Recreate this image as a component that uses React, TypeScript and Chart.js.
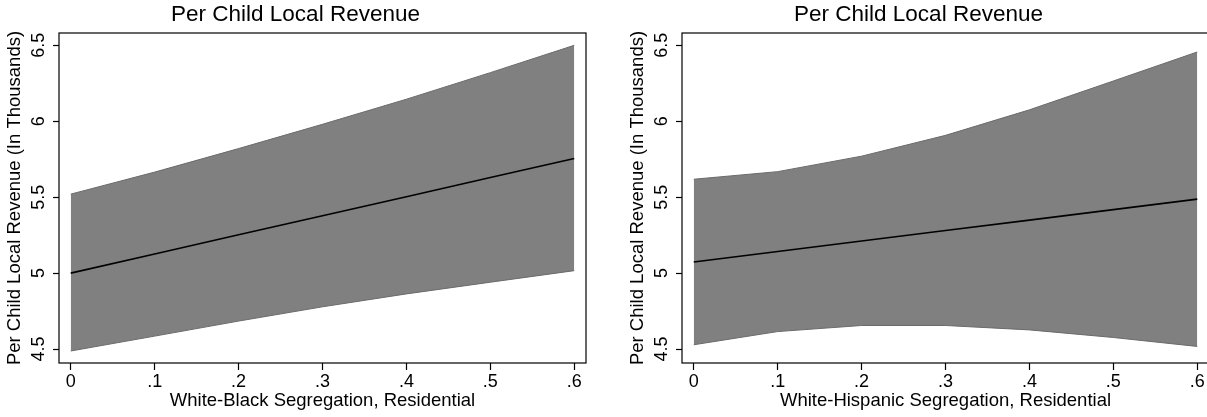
import React, { useEffect, useRef } from "react";
import { Chart, registerables } from "chart.js";

Chart.register(...registerables);

// ---- data ----
const xValues = [0, 0.1, 0.2, 0.3, 0.4, 0.5, 0.6];
const xTickLabels = ["0", ".1", ".2", ".3", ".4", ".5", ".6"];
const yTickValues = [4.5, 5, 5.5, 6, 6.5];
const yTickLabels = ["4.5", "5", "5.5", "6", "6.5"];

const blackUpper = [5.52, 5.665, 5.82, 5.98, 6.145, 6.32, 6.5];
const blackLower = [4.487, 4.585, 4.684, 4.778, 4.863, 4.94, 5.016];
const blackFit = [5.0, 5.126, 5.252, 5.378, 5.503, 5.629, 5.755];

const hispUpper = [5.618, 5.668, 5.77, 5.907, 6.075, 6.265, 6.456];
const hispLower = [4.528, 4.615, 4.655, 4.655, 4.626, 4.576, 4.517];
const hispFit = [5.073, 5.142, 5.211, 5.28, 5.349, 5.418, 5.487];

const chartTitle = "Per Child Local Revenue";
const yAxisTitle = "Per Child Local Revenue (In Thousands)";
const xTitleLeft = "White-Black Segregation, Residential";
const xTitleRight = "White-Hispanic Segregation, Residential";

const FONT = "'Liberation Sans', Arial, Helvetica, sans-serif";
const CANVAS_W = 591;
const CANVAS_H = 417;

const framePlugin = {
  id: "frameAndYLabels",
  afterDraw(chart: any) {
    const { ctx, chartArea } = chart;
    const { left, top, right, bottom } = chartArea;
    ctx.save();
    ctx.strokeStyle = "#000";
    ctx.lineWidth = 1.2;
    ctx.strokeRect(left, top, right - left, bottom - top);
    // rotated y tick labels
    const ys = chart.scales.y;
    ctx.fillStyle = "#000";
    ctx.font = `18px ${FONT}`;
    ctx.textAlign = "center";
    ctx.textBaseline = "middle";
    yTickValues.forEach((v, i) => {
      const py = ys.getPixelForValue(v);
      ctx.save();
      ctx.translate(left - 20, py);
      ctx.rotate(-Math.PI / 2);
      ctx.fillText(yTickLabels[i], 0, 0);
      ctx.restore();
    });
    ctx.restore();
  },
};

function Panel(props: { left: number; upper: number[]; lower: number[]; fit: number[]; xTitle: string }) {
  const ref = useRef<HTMLCanvasElement | null>(null);
  useEffect(() => {
    if (!ref.current) return;
    const toPts = (arr: number[]) => xValues.map((x, i) => ({ x, y: arr[i] }));
    const gridOpts = {
      display: true,
      drawOnChartArea: false,
      drawTicks: true,
      tickLength: 7,
      color: "#000",
      tickColor: "#000",
      lineWidth: 1,
      tickWidth: 1.2,
    };
    const chart = new Chart(ref.current, {
      type: "line",
      data: {
        datasets: [
          {
            data: toPts(props.upper),
            borderColor: "#6a6a6a",
            borderWidth: 1,
            backgroundColor: "#808080",
            fill: "+1",
            pointRadius: 0,
            tension: 0,
            order: 2,
          },
          {
            data: toPts(props.lower),
            borderColor: "#6a6a6a",
            borderWidth: 1,
            backgroundColor: "#808080",
            fill: false,
            pointRadius: 0,
            tension: 0,
            order: 1,
          },
          {
            data: toPts(props.fit),
            borderColor: "#000",
            borderWidth: 1.6,
            fill: false,
            pointRadius: 0,
            tension: 0,
            order: 0,
          },
        ],
      },
      options: {
        responsive: false,
        animation: false,
        events: [],
        layout: { padding: 0 },
        plugins: {
          legend: { display: false },
          tooltip: { enabled: false },
          title: {
            display: true,
            text: chartTitle,
            color: "#000",
            font: { family: FONT, size: 22.5, weight: "normal", lineHeight: 1.2 },
            padding: { top: 1.5, bottom: 4.5 },
          },
        },
        scales: {
          x: {
            type: "linear",
            position: "bottom",
            min: -0.014,
            max: 0.614,
            afterBuildTicks: (s: any) => {
              s.ticks = xValues.map((v) => ({ value: v }));
            },
            afterFit: (s: any) => {
              s.height = 54;
            },
            ticks: {
              autoSkip: false,
              maxRotation: 0,
              minRotation: 0,
              padding: 1,
              color: "#000",
              font: { family: FONT, size: 18 },
              callback: (v: any) => {
                const i = xValues.findIndex((x) => Math.abs(x - Number(v)) < 1e-9);
                return i >= 0 ? xTickLabels[i] : "";
              },
            },
            grid: gridOpts,
            border: { display: false },
            title: {
              display: true,
              text: props.xTitle,
              color: "#000",
              font: { family: FONT, size: 18.5 },
              padding: { top: 0, bottom: 5.4 },
            },
          },
          y: {
            type: "linear",
            position: "left",
            min: 4.408,
            max: 6.581,
            afterBuildTicks: (s: any) => {
              s.ticks = yTickValues.map((v) => ({ value: v }));
            },
            afterFit: (s: any) => {
              s.width = 59;
            },
            ticks: { display: false },
            grid: { ...gridOpts, tickLength: 6 },
            border: { display: false },
            title: {
              display: true,
              text: yAxisTitle,
              color: "#000",
              font: { family: FONT, size: 18.5 },
              padding: { top: 3.4, bottom: 0 },
            },
          },
          yR: {
            type: "linear",
            position: "right",
            display: true,
            afterFit: (s: any) => {
              s.width = 5;
            },
            ticks: { display: false },
            grid: { display: false },
            border: { display: false },
          },
        },
      } as any,
      plugins: [framePlugin],
    });
    return () => chart.destroy();
  }, []);
  return (
    <canvas
      ref={ref}
      width={CANVAS_W}
      height={CANVAS_H}
      style={{ position: "absolute", left: props.left, top: 0, width: CANVAS_W, height: CANVAS_H }}
    />
  );
}

export default function App() {
  return (
    <div
      style={{
        position: "fixed",
        left: 0,
        top: 0,
        width: 1207,
        height: 417,
        overflow: "hidden",
        background: "#fff",
      }}
    >
      <Panel left={0} upper={blackUpper} lower={blackLower} fit={blackFit} xTitle={xTitleLeft} />
      <Panel left={623} upper={hispUpper} lower={hispLower} fit={hispFit} xTitle={xTitleRight} />
    </div>
  );
}
